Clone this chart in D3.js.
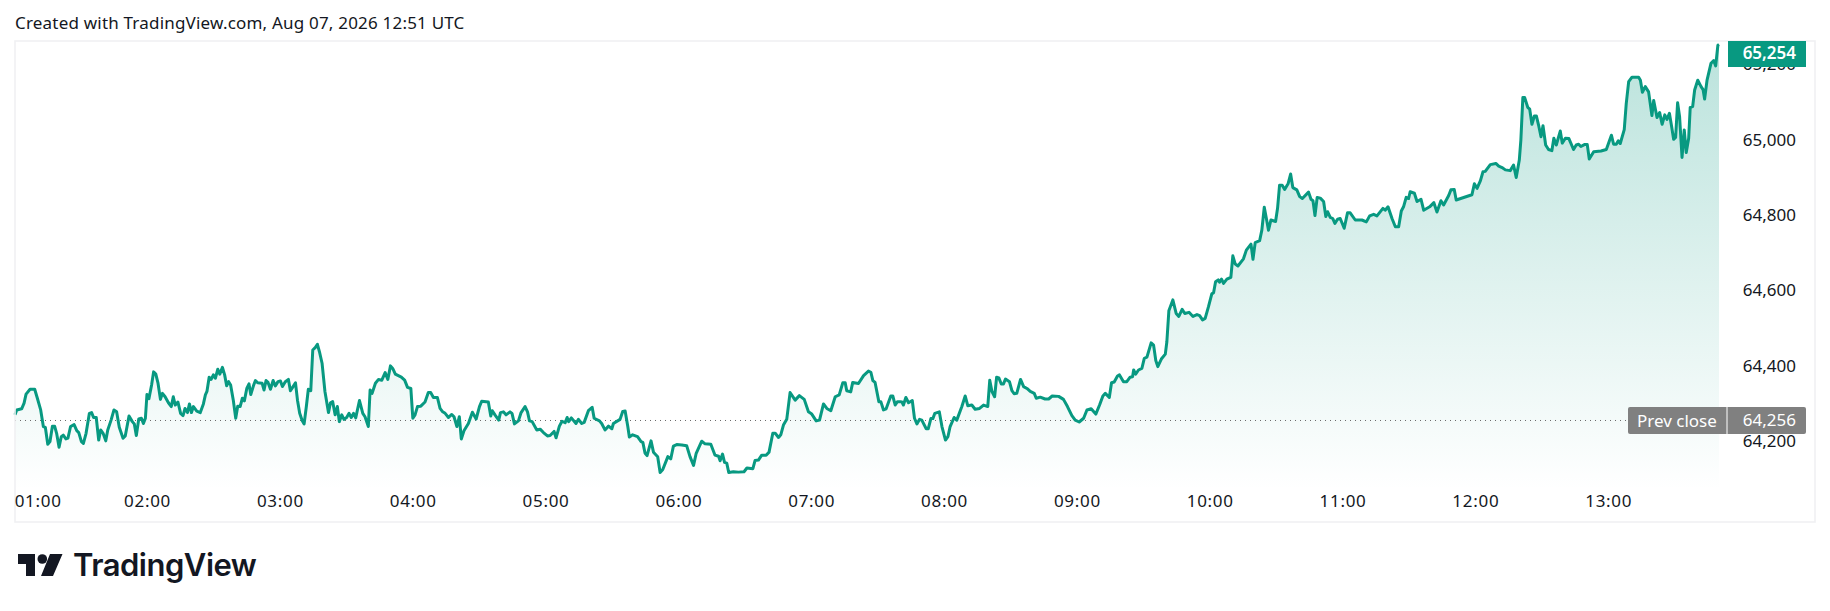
<!DOCTYPE html>
<html>
<head>
<meta charset="utf-8">
<style>
  html, body { margin: 0; padding: 0; background: #fff; }
  svg { display: block; }
  text { font-family: "Noto Sans", sans-serif; }
</style>
</head>
<body>
<svg id="chart" width="1830" height="611"></svg>
<script src="https://cdn.jsdelivr.net/npm/d3@7"></script>
<script>
// minutes after 01:00 and the price read at that moment
const minutes = [0,0.8,3,4.1,5,6.8,8.9,10.1,11.6,12.8,13.7,14.8,15.8,16.9,17.9,18.8,19.9,20.9,21.8,23,23.9,25.1,26.7,27.9,28.8,30,30.9,32.1,33.6,34.6,35.5,36.7,37.8,38.7,39.8,41,41.9,43.4,44.7,45.9,47.1,48.8,49.8,51.5,53,53.9,54.8,55.9,57.1,58,58.9,59.6,60.5,61.7,62.6,63.6,64.6,65.7,66.6,67.8,69.3,70.6,71.5,72.4,73.6,74.8,75.9,76.8,77.9,78.8,79.7,80.6,82.1,83.7,85.1,86,86.7,87.7,88.6,89.6,90.5,91.6,92.5,93.7,94.7,95.6,96.5,97.4,98.6,99.7,100.6,101.7,102.7,103.6,104.7,105.7,106.5,107.7,108.6,109.6,111.6,112.5,113.4,114.3,115.4,116.6,117.6,118.8,119.9,120.8,122.1,123.5,124.4,125.4,126.7,127.6,128.6,129.7,130.6,131.6,132.5,133.6,134.5,135.7,136.6,137.5,138.7,140,141.6,142.5,143.5,144.6,145.6,146.5,147.6,148.6,149.8,150.9,151.9,152.9,153.9,155.6,157.1,158.1,159.6,160.4,161.3,162.8,164.2,165.7,167.2,168.4,169.6,170.6,171.8,174.5,176,177.3,178.8,179.7,180.7,181.8,183.3,185.2,186.7,187.8,189,190.8,192,193.2,194.3,195.8,197.3,198.3,199.6,200.7,
  201.6,202.8,204.8,206.6,208.3,209.8,210.8,213.8,214.9,215.6,216.8,218.5,219.3,220.6,221.8,223.6,224.5,225.6,227.4,228.6,230.4,231.5,232.4,233.6,235.7,237.2,238.7,240.5,241.7,243.5,244.4,245.9,247.1,248.5,249.4,250.1,251.3,253.4,254.5,256,257.1,259,260.7,261.6,264,265,266.5,268.1,269.6,270.3,273.3,274.5,275.6,276.8,277.5,279,281.2,282.8,283.6,284.6,285.5,287.3,288.4,290.3,291.4,292.6,294.9,296.2,297.4,298.9,301.2,303.4,304.9,306.5,307.7,310.2,311.7,314.3,316.2,317.8,318.5,319.6,320.5,321.5,322.4,324.5,326.8,329.3,330.6,333.3,334.3,335.8,337.3,339.3,340.6,342.3,343.4,344.9,345.9,347.1,348.6,350.1,352.4,354.3,356.5,358.4,359.9,361.9,363.4,365.2,366.7,368.5,370.5,372.3,373.9,375,375.7,377.5,378.4,381,383.3,385.5,386.6,387.5,388.5,390.2,391.1,392.3,393.5,395.6,396.5,397.6,398.6,399.8,
  400.6,401.3,402.4,403.6,405.3,406.3,407.4,408.6,409.6,411.6,412.5,413.7,414.6,415.5,417.5,418.7,420.3,421.4,422.4,424.2,425.4,427.7,429.2,430.4,432.2,433.7,435.7,437.5,439.4,440.3,441.3,442.5,443.4,444.4,445.5,446.5,447.4,449.2,450.3,451.3,452.5,454.2,455.6,457.1,458.6,460.4,461.3,463.1,465.3,466.9,468.5,471.4,473.6,475.4,477.4,478.9,480.7,482.7,484.2,486.1,488.2,489.9,491.4,492.5,494.3,495.3,496.5,498,498.9,500.7,502.2,503.7,504.8,505.3,506.2,507.5,509,510.1,511.3,513.2,514.3,515.3,516.2,517.8,519.6,520.3,521.2,523,524.5,525.7,527.2,528.4,530.3,532.1,533.9,535.1,536.4,537.6,539.1,540.6,541.4,542.3,543.5,544.1,545,545.9,547.4,549.2,550.1,551.2,552.4,554.9,556.2,558.3,559.2,560.2,562.2,563.2,564.3,565.5,566.2,567.3,569.4,570.3,571.2,572.4,573.5,575.1,576.2,577.2,579,580.3,581.5,584.3,585.4,586.3,587.2,588.2,589.6,591.1,592.1,592.9,594.1,595.2,596.2,597.4,
  598.6,600.4,601.9,603.1,605.4,608.4,610.4,611.9,613.7,615.2,617.9,618.9,620.2,622,623.5,625,626.2,627.2,628.4,629.5,630.2,632.1,633.3,635.1,636.3,639,640.9,642.3,644.1,645.3,647.6,648.6,650.1,651,658.1,659.2,660.4,661.9,663.1,664.1,666.4,668.9,670.2,671.7,673.2,675.4,676.9,678.1,679.5,680.2,681.1,681.9,683.3,684.2,685.2,686.3,687.2,688.2,689.3,690.2,691.4,692.7,694.2,695.1,696.2,698,698.9,700.3,701.9,704,705.2,706.3,707.3,708.9,710.2,711.1,713.1,716.4,718.8,721.1,722.1,723.3,724.2,725.1,726.9,727.8,728.9,730.4,733.4,734.2,735.1,736.4,737.9,739.4,740.2,741.7,742.9,744,745.2,746.2,747.3,748.3,749.2,750.1,751,751.9,753,754,754.9,756,756.7,757.8,758.7,760.1,761.6,762.5,763.2,764.3,766.1,767.3,768.2,769.2,769.7];
const prices = [64271,64284,64287,64302,64326,64339,64339,64315,64284,64240,64238,64193,64200,64241,64241,64222,64185,64213,64217,64207,64209,64240,64245,64229,64224,64200,64195,64222,64275,64277,64264,64264,64204,64231,64222,64202,64231,64257,64284,64279,64238,64209,64215,64268,64253,64247,64216,64260,64262,64248,64262,64325,64314,64350,64385,64379,64355,64312,64328,64319,64303,64293,64319,64297,64305,64275,64269,64288,64277,64300,64277,64293,64281,64277,64300,64324,64333,64371,64365,64377,64368,64392,64379,64397,64377,64348,64359,64350,64310,64262,64294,64293,64315,64308,64341,64353,64325,64348,64362,64356,64355,64337,64362,64357,64339,64362,64348,64359,64361,64346,64359,64365,64335,64344,64356,64310,64275,64256,64247,64293,64339,64335,64443,64450,64458,64439,64408,64333,64277,64303,64306,64271,64293,64253,64271,64259,64264,64275,64264,64275,64263,64309,64275,64266,64240,64337,64328,64355,64365,64363,64383,64365,64401,64394,64379,64371,64363,64344,64341,64262,64271,64293,64294,64305,64330,64330,64317,64317,64288,64279,64275,64264,64272,64266,64240,64266,
  64207,64229,64248,64278,64260,64293,64307,64305,64268,64282,64271,64257,64277,64279,64271,64279,64275,64247,64255,64277,64293,64279,64255,64253,64231,64233,64224,64215,64216,64227,64210,64241,64254,64250,64264,64253,64263,64248,64259,64248,64251,64282,64291,64262,64255,64248,64231,64241,64234,64248,64259,64280,64281,64240,64212,64218,64213,64200,64198,64169,64163,64202,64172,64160,64118,64126,64160,64154,64188,64192,64191,64189,64160,64137,64169,64201,64194,64193,64164,64161,64149,64167,64145,64143,64118,64120,64119,64120,64130,64128,64150,64151,64164,64164,64172,64222,64222,64211,64218,64244,64259,64330,64310,64322,64312,64279,64273,64255,64257,64300,64288,64282,64319,64324,64356,64356,64335,64332,64357,64354,64375,64387,64384,64362,64357,64306,64306,64284,64287,64321,64321,64297,64306,64306,
  64305,64297,64317,64303,64309,64262,64247,64259,64257,64234,64234,64261,64261,64275,64279,64240,64204,64213,64240,64264,64257,64293,64321,64295,64297,64286,64288,64297,64293,64363,64333,64319,64371,64369,64353,64353,64366,64359,64335,64327,64328,64365,64346,64341,64333,64328,64315,64318,64313,64313,64321,64320,64312,64293,64269,64257,64252,64262,64284,64287,64273,64297,64321,64328,64317,64356,64358,64374,64377,64359,64359,64371,64372,64390,64379,64390,64394,64421,64424,64462,64456,64415,64399,64419,64432,64465,64547,64576,64540,64532,64551,64540,64543,64532,64537,64534,64523,64527,64558,64592,64595,64624,64629,64623,64631,64620,64631,64636,64693,64671,64666,64685,64708,64724,64684,64728,64733,64761,64822,64784,64761,64788,64784,64819,64880,64880,64869,64885,64910,64874,64868,64850,64845,64862,64843,64839,64800,64848,64846,64837,64797,64810,64795,64792,64779,64790,
  64792,64766,64807,64807,64788,64788,64783,64799,64803,64799,64819,64814,64823,64792,64770,64770,64812,64823,64848,64845,64863,64859,64837,64843,64814,64823,64834,64809,64839,64828,64853,64868,64869,64841,64855,64884,64872,64892,64916,64917,64935,64938,64931,64927,64921,64919,64934,64901,64947,65000,65113,65113,65087,65082,65042,65064,65064,65040,65009,65038,64987,64975,64972,65005,64987,65024,64992,65005,65004,64975,64987,64989,64983,64988,64988,64950,64969,64971,64975,65013,64989,64989,64998,64991,65028,65097,65155,65167,65167,65159,65127,65142,65128,65065,65105,65060,65073,65042,65067,65055,65071,65036,65002,65007,65099,65062,64954,65027,64967,65005,65087,65089,65133,65159,65142,65134,65109,65159,65204,65211,65197,65252,65254];
const hourMinutes = [0,60,120,180,240,300,360,420,480,540,600,660,720];
const hourLabels = ['01:00','02:00','03:00','04:00','05:00','06:00','07:00','08:00','09:00','10:00','11:00','12:00','13:00'];
const priceTicks = [64200,64400,64600,64800,65000,65200];
const prevClose = 64256;
const lastPrice = 65254;

const green = '#089981';
const ink = '#131722';
const labelSize = 17;
const frame = {left: 15, right: 1815, top: 41, bottom: 522};
const plotRight = 1719;

const svg = d3.select('#chart');
const x = d3.scaleLinear().domain([0, 769.7]).range([frame.left, plotRight]);
const y = d3.scaleLinear().domain([64200, 65000]).range([441.6, 140.1]);
const series = minutes.map((m, i) => ({m, p: prices[i]}));

// gradient under the line
const grad = svg.append('defs').append('linearGradient')
  .attr('id', 'under').attr('gradientUnits', 'userSpaceOnUse')
  .attr('x1', 0).attr('x2', 0).attr('y1', frame.top).attr('y2', 490);
grad.append('stop').attr('offset', 0).attr('stop-color', green).attr('stop-opacity', 0.28);
grad.append('stop').attr('offset', 1).attr('stop-color', green).attr('stop-opacity', 0);

svg.append('path').datum(series)
  .attr('fill', 'url(#under)')
  .attr('d', d3.area().x(d => x(d.m)).y0(490).y1(d => y(d.p)));

// prev close dots
svg.append('line')
  .attr('x1', frame.left).attr('x2', 1628)
  .attr('y1', y(prevClose)).attr('y2', y(prevClose))
  .attr('stroke', '#6a6a6a').attr('stroke-dasharray', '1 4');

svg.append('path').datum(series)
  .attr('fill', 'none').attr('stroke', green).attr('stroke-width', 3)
  .attr('stroke-linejoin', 'round')
  .attr('d', d3.line().x(d => x(d.m)).y(d => y(d.p)));

// frame
svg.append('rect')
  .attr('x', frame.left).attr('y', frame.top)
  .attr('width', frame.right - frame.left).attr('height', frame.bottom - frame.top)
  .attr('fill', 'none').attr('stroke', '#f0f1f3').attr('stroke-width', 1.6);

// axes
const yAxis = svg.append('g').attr('transform', 'translate(1796,-0.5)')
  .call(d3.axisLeft(y).tickValues(priceTicks).tickSize(0).tickPadding(0).tickFormat(d3.format(',')));
yAxis.select('.domain').remove();
yAxis.selectAll('text').attr('font-size', labelSize).attr('fill', ink)
  .style('font-family', '"Noto Sans", sans-serif');

const xAxis = svg.append('g').attr('transform', 'translate(-0.8,495)')
  .call(d3.axisBottom(x).tickValues(hourMinutes).tickSize(0).tickPadding(0)
    .tickFormat((d, i) => hourLabels[i]));
xAxis.select('.domain').remove();
xAxis.selectAll('text').attr('font-size', labelSize).attr('fill', ink)
  .style('font-family', '"Noto Sans", sans-serif')
  .style('letter-spacing', '0.7px')
  .attr('text-anchor', d => d === 0 ? 'start' : 'middle');

// price tags
svg.append('rect').attr('x', 1728).attr('y', 41).attr('width', 78).attr('height', 26).attr('fill', green);
svg.append('text').attr('x', 1796).attr('y', 59).attr('text-anchor', 'end')
  .attr('font-size', labelSize).attr('font-weight', 600).attr('fill', '#fff')
  .text(d3.format(',')(lastPrice));

svg.append('rect').attr('x', 1628).attr('y', 407).attr('width', 178).attr('height', 27).attr('rx', 2).attr('fill', '#808080');
svg.append('line').attr('x1', 1727).attr('x2', 1727).attr('y1', 407).attr('y2', 434).attr('stroke', '#fff');
svg.append('text').attr('x', 1637).attr('y', 427).attr('font-size', labelSize).attr('fill', '#fff').text('Prev close');
svg.append('text').attr('x', 1796).attr('y', 426).attr('text-anchor', 'end').attr('font-size', labelSize).attr('fill', '#fff')
  .text(d3.format(',')(prevClose));

// header
svg.append('text').attr('x', 15).attr('y', 29).attr('font-size', labelSize).attr('letter-spacing', 0.2).attr('fill', ink)
  .text('Created with TradingView.com, Aug 07, 2026 12:51 UTC');

// logo
svg.append('path').attr('fill', ink)
  .attr('d', 'M18 554H35V576H26V564H18Z M50 554H62.5L53 576H41Z');
svg.append('circle').attr('cx', 42.3).attr('cy', 559).attr('r', 4.8).attr('fill', ink);
svg.append('text').attr('x', 73).attr('y', 576).attr('font-size', 31).attr('font-weight', 600)
  .attr('letter-spacing', -0.5).attr('fill', ink).style('font-family', 'Inter, sans-serif')
  .text('TradingView');
</script>
</body>
</html>
